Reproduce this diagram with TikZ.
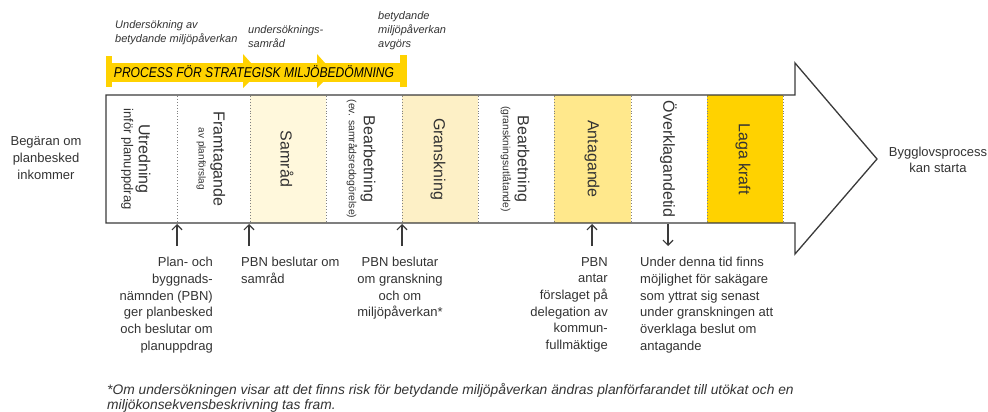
\documentclass[tikz,border=0pt]{standalone}
\usepackage{fontspec}
\setmainfont{Liberation Sans}
\newfontfamily\condfont[FakeStretch=0.85]{Liberation Sans}
\usetikzlibrary{arrows.meta}
\definecolor{gold}{HTML}{FFD200}
\definecolor{samcol}{HTML}{FFF8DC}
\definecolor{grcol}{HTML}{FDF0C6}
\definecolor{antcol}{HTML}{FFE88C}
\definecolor{txt}{HTML}{333333}
\definecolor{edge}{HTML}{3A3A3A}
\begin{document}
\begin{tikzpicture}[x=1pt,y=-1pt,
  collabel/.style={rotate=-90, align=center, inner sep=0pt, text=txt,
    font=\fontsize{12}{15}\selectfont},
  note/.style={inner sep=0pt, text=txt, font=\fontsize{13}{16.7}\selectfont},
  toplabel/.style={inner sep=0pt, anchor=north west, align=left, text=txt,
    font=\fontsize{11}{14}\selectfont\itshape},
  divider/.style={gray, dotted, line width=0.9pt},
  outline/.style={edge, line width=1.3pt, line join=miter},
  arr/.style={edge, line width=1.2pt, -{Straight Barb[length=5pt,width=10pt]}}
]
\useasboundingbox (0,0) rectangle (988,412);

% ---- strategic assessment band
\fill[gold] (106,63) rectangle (407,82);
\fill[gold] (106,56) rectangle (112,87);
\fill[gold] (400,55) rectangle (407,87);
\fill[gold] (243,54) -- (259,72) -- (243,88) -- cycle;
\fill[gold] (317,54) -- (333,72) -- (317,88) -- cycle;
\node[inner sep=0pt, anchor=base, font=\condfont\fontsize{14.2}{16}\selectfont\itshape]
  (band) at (254,77.3) {PROCESS FÖR STRATEGISK MILJÖBEDÖMNING};

\node[toplabel] (t1) at (115,20) {Undersökning av\\betydande miljöpåverkan};
\node[toplabel] (t2) at (248,25) {undersöknings-\\samråd};
\node[toplabel] (t3) at (378,11) {betydande\\miljöpåverkan\\avgörs};

% ---- column fills
\fill[samcol] (250,95) rectangle (326,223);
\fill[grcol] (402,95) rectangle (478,223);
\fill[antcol] (554,95) rectangle (631,223);
\fill[gold] (707,95) rectangle (783,223);

\foreach \x in {177,250,326,402,478,554,631,707,783}
  \draw[divider] (\x,96) -- (\x,222);

% ---- main arrow outline
\draw[outline] (106,95) -- (795,95) -- (795,63) -- (877,159) -- (795,254)
  -- (795,223) -- (106,223) -- cycle;

% ---- column labels
\node[collabel] (c1) at (135.8,159) {{\fontsize{16}{18}\selectfont Utredning}\\{\fontsize{13}{15}\selectfont inför planuppdrag}};
\node[collabel] (c2) at (211,159) {{\fontsize{16}{18}\selectfont Framtagande}\\{\fontsize{10}{12}\selectfont av planförslag}};
\node[collabel] (c3) at (287,159) {{\fontsize{16}{18}\selectfont Samråd}};
\node[collabel] (c4) at (361,159) {{\fontsize{16}{18}\selectfont Bearbetning}\\{\fontsize{10.4}{12}\selectfont (ev. samrådsredogörelse)}};
\node[collabel] (c5) at (438,159) {{\fontsize{16}{18}\selectfont Granskning}};
\node[collabel] (c6) at (515,159) {{\fontsize{16}{18}\selectfont Bearbetning}\\{\fontsize{10.4}{12}\selectfont (granskningsutlåtande)}};
\node[collabel] (c7) at (592,159) {{\fontsize{16}{18}\selectfont Antagande}};
\node[collabel] (c8) at (668.3,159) {{\fontsize{16}{18}\selectfont Överklagandetid}};
\node[collabel] (c9) at (743,159) {{\fontsize{16}{18}\selectfont Laga kraft}};

% ---- side texts
\node[note, align=center] (start) at (46,158) {Begäran om\\planbesked\\inkommer};
\node[note, align=center] (end) at (938,160) {Bygglovsprocess\\kan starta};

% ---- decision notes
\node[note, align=right, anchor=north east] (n1) at (213,257) {Plan- och\\byggnads-\\nämnden (PBN)\\ger planbesked\\och beslutar om\\planuppdrag};
\node[note, align=left, anchor=north west] (n2) at (241,257) {PBN beslutar om\\samråd};
\node[note, align=center, anchor=north] (n3) at (400,257) {PBN beslutar\\om granskning\\och om\\miljöpåverkan*};
\node[note, align=right, anchor=north east] (n4) at (608,257) {PBN\\antar\\förslaget på\\delegation av\\kommun-\\fullmäktige};
\node[note, align=left, anchor=north west] (n5) at (640,257) {Under denna tid finns\\möjlighet för sakägare\\som yttrat sig senast\\under granskningen att\\överklaga beslut om\\antagande};

% ---- decision arrows
\coordinate (a1) at (177,246); \coordinate (b1) at (177,224);
\coordinate (a2) at (249,246); \coordinate (b2) at (249,224);
\coordinate (a3) at (402,246); \coordinate (b3) at (402,224);
\coordinate (a4) at (592,246); \coordinate (b4) at (592,224);
\coordinate (a5) at (668,224); \coordinate (b5) at (668,246);
\draw[arr] (a1) -- (b1);
\draw[arr] (a2) -- (b2);
\draw[arr] (a3) -- (b3);
\draw[arr] (a4) -- (b4);
\draw[arr] (a5) -- (b5);

% ---- footnote
\node[inner sep=0pt, anchor=north west, align=left, text=txt,
  font=\fontsize{13.8}{15}\selectfont\itshape] (foot) at (107,383.5)
  {*Om undersökningen visar att det finns risk för betydande miljöpåverkan ändras planförfarandet till utökat och en\\miljökonsekvensbeskrivning tas fram.};
\end{tikzpicture}
\end{document}
